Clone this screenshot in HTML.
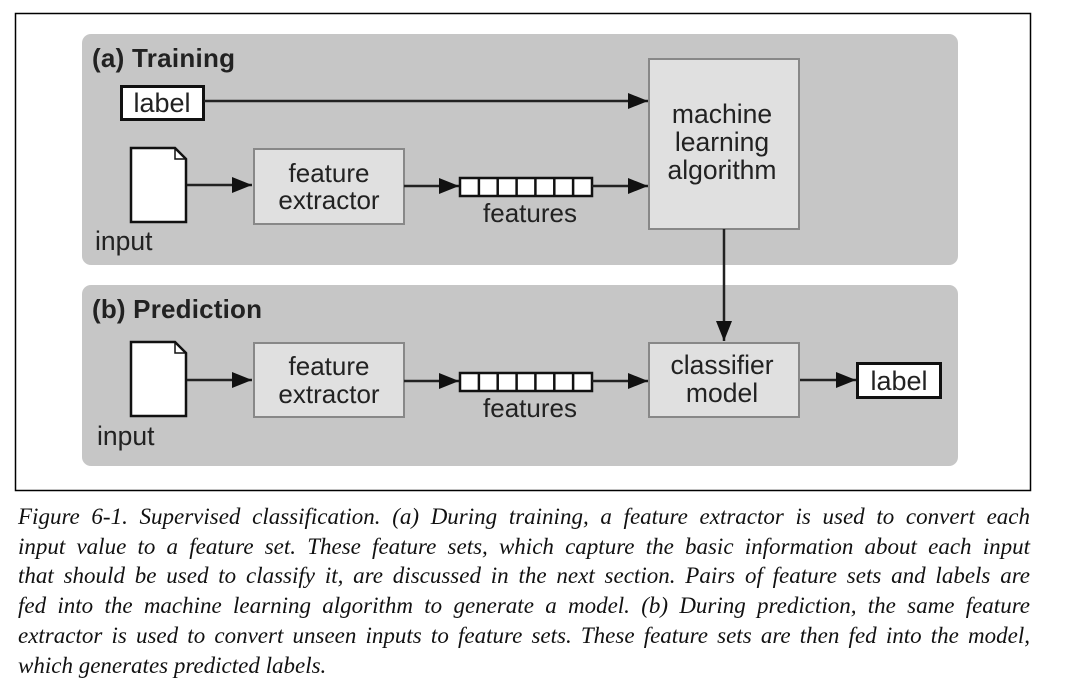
<!DOCTYPE html>
<html><head><style>
html,body{margin:0;padding:0;background:#fff;width:1080px;height:692px;overflow:hidden}
svg{position:absolute;left:0;top:0}
.cap{position:absolute;left:18px;top:502px;width:1012px;font-family:"Liberation Serif",serif;font-style:italic;font-size:23px;line-height:29.7px;color:#111}
.cap div{white-space:nowrap;text-align:justify;text-align-last:justify}
.cap div.l{text-align-last:left}
</style></head><body>
<svg width="1080" height="692" xmlns="http://www.w3.org/2000/svg" font-family="Liberation Sans, sans-serif">
<defs>
<marker id="b" viewBox="0 0 20 16" markerWidth="20" markerHeight="16" refX="20" refY="8" orient="auto" markerUnits="userSpaceOnUse"><path d="M0,0 L20,8 L0,16 Z" fill="#111"/></marker></defs>
<rect x="15.5" y="13.5" width="1015" height="477" fill="none" stroke="#000" stroke-width="1.5"/>
<rect x="82" y="34" width="876" height="231" rx="9" fill="#c6c6c6"/>
<rect x="82" y="285" width="876" height="181" rx="9" fill="#c6c6c6"/>
<text x="92" y="67" font-size="26" font-weight="bold" fill="#222" textLength="143">(a) Training</text>
<text x="92" y="318" font-size="26" font-weight="bold" fill="#222" textLength="170">(b) Prediction</text>
<rect x="121.5" y="86.5" width="82" height="33" fill="#fff" stroke="#111" stroke-width="3"/>
<text x="162" y="112" font-size="27" text-anchor="middle" fill="#222">label</text>
<line x1="204" y1="101" x2="648" y2="101" stroke="#222" stroke-width="2.5" marker-end="url(#b)"/>
<path d="M131,148 H175 L186,159 V222 H131 Z" fill="#fff" stroke="#111" stroke-width="2.5"/>
<path d="M175,148 V159 H186" fill="none" stroke="#111" stroke-width="1.5"/>
<text x="95" y="250" font-size="26.5" fill="#222">input</text>
<line x1="187" y1="185" x2="252" y2="185" stroke="#222" stroke-width="2.5" marker-end="url(#b)"/>
<rect x="254" y="149" width="150" height="75" fill="#e0e0e0" stroke="#888" stroke-width="2"/>
<text x="329" y="182" font-size="26" text-anchor="middle" fill="#222">feature</text>
<text x="329" y="209" font-size="26" text-anchor="middle" fill="#222">extractor</text>
<line x1="404" y1="186" x2="459" y2="186" stroke="#222" stroke-width="2.5" marker-end="url(#b)"/>
<g transform="translate(460,178)"><rect x="0" y="0" width="132" height="18" fill="#fff" stroke="#111" stroke-width="2.5"/>
<path d="M18.9,0V18M37.7,0V18M56.6,0V18M75.4,0V18M94.3,0V18M113.1,0V18" stroke="#111" stroke-width="2.5"/></g>
<text x="530" y="222" font-size="26" text-anchor="middle" fill="#222">features</text>
<line x1="592" y1="186" x2="648" y2="186" stroke="#222" stroke-width="2.5" marker-end="url(#b)"/>
<rect x="649" y="59" width="150" height="170" fill="#e0e0e0" stroke="#888" stroke-width="2"/>
<text x="722" y="123" font-size="26.5" text-anchor="middle" fill="#222">machine</text>
<text x="722" y="151" font-size="26.5" text-anchor="middle" fill="#222">learning</text>
<text x="722" y="179" font-size="26.5" text-anchor="middle" fill="#222">algorithm</text>
<line x1="724" y1="229" x2="724" y2="341" stroke="#222" stroke-width="2.5" marker-end="url(#b)"/>
<path d="M131,342 H175 L186,353 V416 H131 Z" fill="#fff" stroke="#111" stroke-width="2.5"/>
<path d="M175,342 V353 H186" fill="none" stroke="#111" stroke-width="1.5"/>
<text x="97" y="445" font-size="26.5" fill="#222">input</text>
<line x1="187" y1="380" x2="252" y2="380" stroke="#222" stroke-width="2.5" marker-end="url(#b)"/>
<rect x="254" y="343" width="150" height="74" fill="#e0e0e0" stroke="#888" stroke-width="2"/>
<text x="329" y="375" font-size="26" text-anchor="middle" fill="#222">feature</text>
<text x="329" y="403" font-size="26" text-anchor="middle" fill="#222">extractor</text>
<line x1="404" y1="381" x2="459" y2="381" stroke="#222" stroke-width="2.5" marker-end="url(#b)"/>
<g transform="translate(460,373)"><rect x="0" y="0" width="132" height="18" fill="#fff" stroke="#111" stroke-width="2.5"/>
<path d="M18.9,0V18M37.7,0V18M56.6,0V18M75.4,0V18M94.3,0V18M113.1,0V18" stroke="#111" stroke-width="2.5"/></g>
<text x="530" y="417" font-size="26" text-anchor="middle" fill="#222">features</text>
<line x1="592" y1="381" x2="648" y2="381" stroke="#222" stroke-width="2.5" marker-end="url(#b)"/>
<rect x="649" y="343" width="150" height="74" fill="#e0e0e0" stroke="#888" stroke-width="2"/>
<text x="722" y="374" font-size="26.5" text-anchor="middle" fill="#222">classifier</text>
<text x="722" y="402" font-size="26.5" text-anchor="middle" fill="#222">model</text>
<line x1="800" y1="380" x2="856" y2="380" stroke="#222" stroke-width="2.5" marker-end="url(#b)"/>
<rect x="857.5" y="363.5" width="83" height="34" fill="#fff" stroke="#111" stroke-width="3"/>
<text x="899" y="390" font-size="27" text-anchor="middle" fill="#222">label</text>
</svg>
<div class="cap">
<div>Figure 6-1. Supervised classification. (a) During training, a feature extractor is used to convert each</div>
<div>input value to a feature set. These feature sets, which capture the basic information about each input</div>
<div>that should be used to classify it, are discussed in the next section. Pairs of feature sets and labels are</div>
<div>fed into the machine learning algorithm to generate a model. (b) During prediction, the same feature</div>
<div>extractor is used to convert unseen inputs to feature sets. These feature sets are then fed into the model,</div>
<div class="l">which generates predicted labels.</div>
</div>
</body></html>
